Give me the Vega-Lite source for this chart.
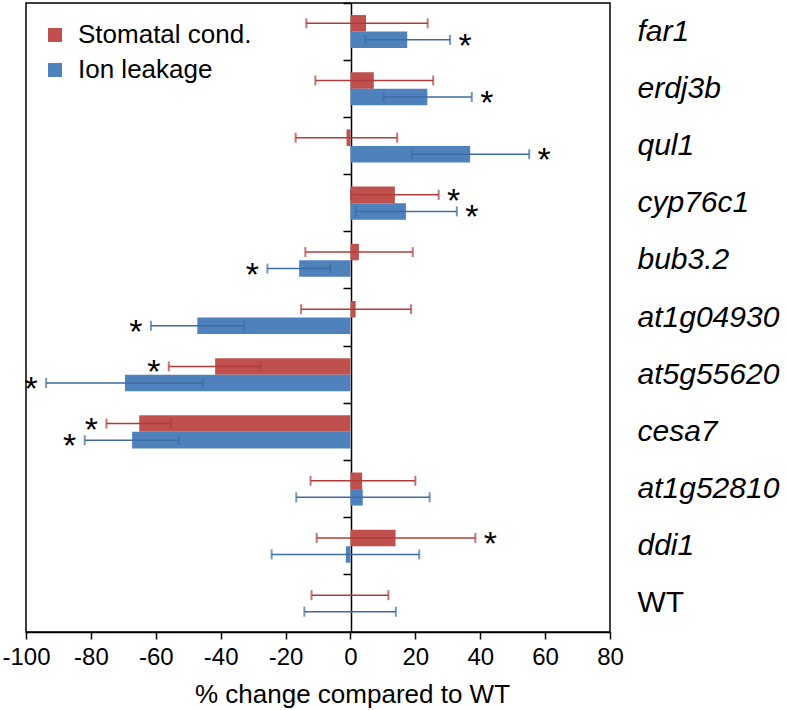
{
  "$schema": "https://vega.github.io/schema/vega-lite/v6.json",
  "width": 584,
  "height": 629,
  "autosize": {"type": "none"},
  "padding": {"left": 26, "top": 3, "right": 177, "bottom": 78},
  "background": "white",
  "config": {
    "view": {"stroke": "black", "strokeWidth": 1.5},
    "font": "Liberation Sans",
    "axis": {"grid": false, "labelFont": "Liberation Sans", "titleFont": "Liberation Sans", "labelColor": "black", "titleColor": "black"}
  },
  "data": {
    "values": [
      {"gene": "far1", "series": "Stomatal cond.", "value": 4.8, "lo": -13.6, "hi": 23.8, "star": ""},
      {"gene": "far1", "series": "Ion leakage", "value": 17.5, "lo": 4.6, "hi": 30.7, "star": "right"},
      {"gene": "erdj3b", "series": "Stomatal cond.", "value": 7.2, "lo": -10.8, "hi": 25.5, "star": ""},
      {"gene": "erdj3b", "series": "Ion leakage", "value": 23.7, "lo": 10.2, "hi": 37.4, "star": "right"},
      {"gene": "qul1", "series": "Stomatal cond.", "value": -1.2, "lo": -16.9, "hi": 14.4, "star": ""},
      {"gene": "qul1", "series": "Ion leakage", "value": 36.9, "lo": 18.9, "hi": 55.1, "star": "right"},
      {"gene": "cyp76c1", "series": "Stomatal cond.", "value": 13.7, "lo": 0.2, "hi": 27.2, "star": "right"},
      {"gene": "cyp76c1", "series": "Ion leakage", "value": 17.1, "lo": 1.7, "hi": 32.8, "star": "right"},
      {"gene": "bub3.2", "series": "Stomatal cond.", "value": 2.6, "lo": -13.9, "hi": 19.2, "star": ""},
      {"gene": "bub3.2", "series": "Ion leakage", "value": -15.8, "lo": -25.6, "hi": -6.2, "star": "left"},
      {"gene": "at1g04930", "series": "Stomatal cond.", "value": 1.6, "lo": -15.2, "hi": 18.7, "star": ""},
      {"gene": "at1g04930", "series": "Ion leakage", "value": -47.2, "lo": -61.5, "hi": -32.8, "star": "left"},
      {"gene": "at5g55620", "series": "Stomatal cond.", "value": -41.7, "lo": -56.0, "hi": -27.7, "star": "left"},
      {"gene": "at5g55620", "series": "Ion leakage", "value": -69.5, "lo": -93.8, "hi": -45.5, "star": "left"},
      {"gene": "cesa7", "series": "Stomatal cond.", "value": -65.1, "lo": -75.2, "hi": -55.4, "star": "left"},
      {"gene": "cesa7", "series": "Ion leakage", "value": -67.3, "lo": -81.9, "hi": -52.9, "star": "left"},
      {"gene": "at1g52810", "series": "Stomatal cond.", "value": 3.6, "lo": -12.3, "hi": 20.0, "star": ""},
      {"gene": "at1g52810", "series": "Ion leakage", "value": 3.8, "lo": -16.7, "hi": 24.4, "star": ""},
      {"gene": "ddi1", "series": "Stomatal cond.", "value": 13.9, "lo": -10.4, "hi": 38.5, "star": "right"},
      {"gene": "ddi1", "series": "Ion leakage", "value": -1.4, "lo": -24.3, "hi": 21.2, "star": ""},
      {"gene": "WT", "series": "Stomatal cond.", "value": 0, "lo": -12.0, "hi": 11.7, "star": ""},
      {"gene": "WT", "series": "Ion leakage", "value": 0, "lo": -14.2, "hi": 14.0, "star": ""}
    ]
  },
  "resolve": {"axis": {"y": "independent"}},
  "layer": [
    {
      "mark": {"type": "bar", "stroke": null},
      "encoding": {
        "x": {
          "field": "value", "type": "quantitative",
          "scale": {"domain": [-100, 80], "nice": false, "zero": false},
          "axis": {
            "values": [-100, -80, -60, -40, -20, 0, 20, 40, 60, 80],
            "labelExpr": "datum.value < 0 ? '-' + abs(datum.value) : '' + datum.value",
            "labelOverlap": false, "labelFlush": false,
            "title": "% change compared to WT",
            "titleFontSize": 26, "titleFontWeight": "normal", "titlePadding": 12,
            "titleAnchor": "middle", "titleX": 326,
            "labelFontSize": 24, "labelPadding": 6,
            "tickSize": 7, "tickColor": "black", "tickWidth": 1.5,
            "domainColor": "black", "domainWidth": 1.5
          }
        },
        "y": {
          "field": "gene", "type": "nominal",
          "scale": {"domain": ["far1", "erdj3b", "qul1", "cyp76c1", "bub3.2", "at1g04930", "at5g55620", "cesa7", "at1g52810", "ddi1", "WT"], "paddingInner": 0, "paddingOuter": 0},
          "axis": {
            "orient": "left", "offset": -325, "labels": false, "title": null,
            "bandPosition": 0, "tickSize": 8, "tickColor": "black", "tickWidth": 1.5,
            "domainColor": "black", "domainWidth": 1.5
          }
        },
        "yOffset": {
          "field": "series", "type": "nominal",
          "scale": {"domain": ["Stomatal cond.", "Ion leakage"], "paddingInner": 0, "paddingOuter": 0.73}
        },
        "color": {
          "field": "series", "type": "nominal",
          "scale": {"domain": ["Stomatal cond.", "Ion leakage"], "range": ["#c0504d", "#4f81bd"]},
          "legend": {
            "title": null, "orient": "none", "legendX": 16, "legendY": 19,
            "symbolType": "square", "symbolSize": 196, "symbolStrokeWidth": 0, "symbolOpacity": 1,
            "labelFontSize": 26, "labelColor": "black", "labelOffset": 10, "rowPadding": 9,
            "labelLimit": 400, "padding": 0, "labelFont": "Liberation Sans"
          }
        }
      }
    },
    {
      "mark": {"type": "rule", "strokeWidth": 1.5},
      "encoding": {
        "x": {"field": "lo", "type": "quantitative"},
        "x2": {"field": "hi"},
        "y": {
          "field": "gene", "type": "nominal",
          "axis": {
            "orient": "right", "title": null, "domain": false, "ticks": false,
            "labelFontSize": 30, "labelPadding": 27, "labelColor": "black",
            "labelFontStyle": {"condition": {"test": "datum.value === 'WT'", "value": "normal"}, "value": "italic"}
          }
        },
        "yOffset": {"field": "series", "type": "nominal"},
        "stroke": {
          "field": "series", "type": "nominal",
          "scale": {"domain": ["Stomatal cond.", "Ion leakage"], "range": ["#b03c3a", "#3f6ba3"]},
          "legend": null
        }
      }
    },
    {
      "transform": [{"fold": ["lo", "hi"], "as": ["end", "pos"]}],
      "mark": {"type": "tick", "size": 10, "thickness": 2, "orient": "vertical"},
      "encoding": {
        "x": {"field": "pos", "type": "quantitative"},
        "y": {"field": "gene", "type": "nominal", "axis": null},
        "yOffset": {"field": "series", "type": "nominal"},
        "fill": {
          "field": "series", "type": "nominal",
          "scale": {"domain": ["Stomatal cond.", "Ion leakage"], "range": ["#b03c3a", "#3f6ba3"]},
          "legend": null
        }
      }
    },
    {
      "transform": [{"filter": "datum.star === 'right'"}],
      "mark": {"type": "text", "text": "*", "fontSize": 34, "dx": 15, "dy": 7, "align": "center", "baseline": "middle", "color": "black"},
      "encoding": {
        "x": {"field": "hi", "type": "quantitative"},
        "y": {"field": "gene", "type": "nominal", "axis": null},
        "yOffset": {"field": "series", "type": "nominal"}
      }
    },
    {
      "transform": [{"filter": "datum.star === 'left'"}],
      "mark": {"type": "text", "text": "*", "fontSize": 34, "dx": -15, "dy": 7, "align": "center", "baseline": "middle", "color": "black"},
      "encoding": {
        "x": {"field": "lo", "type": "quantitative"},
        "y": {"field": "gene", "type": "nominal", "axis": null},
        "yOffset": {"field": "series", "type": "nominal"}
      }
    }
  ]
}
